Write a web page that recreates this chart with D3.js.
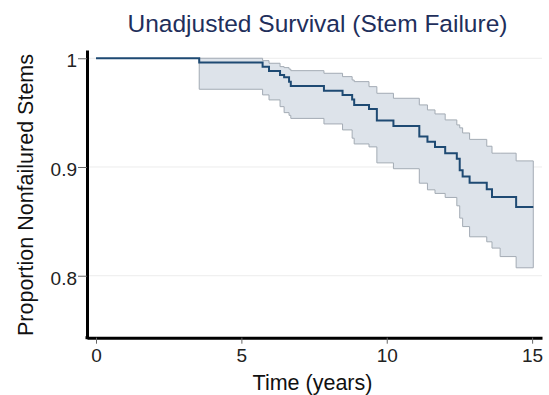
<!DOCTYPE html>
<html>
<head>
<meta charset="utf-8">
<script src="https://cdn.jsdelivr.net/npm/d3@7"></script>
<style>
  body { margin: 0; background: #fff; }
  svg { display: block; font-family: "Liberation Sans", Arial, sans-serif; }
</style>
</head>
<body>
<div id="chart"></div>
<script>
// step times (years)
const times = [0, 3.55, 5.73, 5.95, 6.33, 6.47, 6.64, 6.70, 7.84, 8.48, 8.81, 8.88, 9.39, 9.66,
  10.23, 11.12, 11.40, 11.66, 12.01, 12.41, 12.51, 12.61, 12.85, 13.44, 13.62, 13.90, 14.45];
const endTime = 15.04;
const survival = [1, 0.996, 0.9923, 0.9883, 0.9847, 0.9825, 0.9785, 0.9745, 0.9702, 0.9663, 0.9621,
  0.9571, 0.9534, 0.9428, 0.9378, 0.9281, 0.9233, 0.9185, 0.9127, 0.9076, 0.8971, 0.8912, 0.8854,
  0.8796, 0.8725, 0.8725, 0.8633];
const upper = [1, 1, 0.9978, 0.9954, 0.9923, 0.9914, 0.990, 0.9886, 0.9862, 0.9831, 0.980, 0.9785,
  0.9739, 0.9678, 0.9632, 0.9571, 0.9525, 0.9488, 0.9433, 0.9387, 0.936, 0.9313, 0.9254, 0.9191,
  0.9127, 0.9127, 0.9056];
const lower = [1, 0.9715, 0.9663, 0.9617, 0.9555, 0.95, 0.9475, 0.9447, 0.9396, 0.9341, 0.9265,
  0.9212, 0.9185, 0.9038, 0.8984, 0.8851, 0.879, 0.8757, 0.872, 0.8643, 0.853, 0.8452, 0.8358,
  0.8312, 0.8254, 0.8176, 0.8073];
const xTicks = [0, 5, 10, 15];
const yTicks = [0.8, 0.9, 1];

const width = 549, height = 395;

const svg = d3.select("#chart").append("svg")
    .attr("width", width)
    .attr("height", height);

// scales (domains run a bit past the ticks like the original)
const x = d3.scaleLinear().domain([-0.31, 15.34]).range([87, 542]);
const y = d3.scaleLinear().domain([0.743, 1.0076]).range([337.7, 50]);

// format the data
const data = times.map((t, i) => ({ t: t, s: survival[i], hi: upper[i], lo: lower[i] }));
const last = data[data.length - 1];
data.push({ t: endTime, s: last.s, hi: last.hi, lo: last.lo });

// grid lines
svg.append("g")
  .selectAll("line")
  .data(yTicks)
  .join("line")
    .attr("x1", 88).attr("x2", 542)
    .attr("y1", d => y(d)).attr("y2", d => y(d))
    .attr("stroke", "#ececec")
    .attr("stroke-width", 1);

// confidence band (starts at the first failure)
const band = d3.area()
    .curve(d3.curveStepAfter)
    .x(d => x(d.t))
    .y0(d => y(d.lo))
    .y1(d => y(d.hi));

svg.append("path")
    .datum(data.slice(1))
    .attr("d", band)
    .attr("fill", "#dde3ea")
    .attr("stroke", "#a3abb4")
    .attr("stroke-width", 1);

// survival line
const valueline = d3.line()
    .curve(d3.curveStepAfter)
    .x(d => x(d.t))
    .y(d => y(d.s));

svg.append("path")
    .datum(data)
    .attr("d", valueline)
    .attr("fill", "none")
    .attr("stroke", "#1e4a73")
    .attr("stroke-width", 2);

// x axis
const xAxis = svg.append("g")
    .attr("transform", "translate(0,337.7)")
    .call(d3.axisBottom(x).tickValues(xTicks).tickSize(6).tickSizeOuter(0).tickPadding(5));
xAxis.select(".domain").attr("stroke", "#000").attr("stroke-width", 3);
xAxis.selectAll(".tick line").attr("stroke", "#666").attr("stroke-width", 1);
xAxis.selectAll(".tick text")
    .attr("font-size", 19)
    .attr("fill", "#222")
    .attr("font-family", "Liberation Sans, Arial, sans-serif");

// y axis
const yAxis = svg.append("g")
    .attr("transform", "translate(87,0)")
    .call(d3.axisLeft(y).tickValues(yTicks).tickFormat(d3.format("")).tickSize(9).tickSizeOuter(0).tickPadding(1));
yAxis.select(".domain").attr("stroke", "#000").attr("stroke-width", 3);
yAxis.selectAll(".tick line").attr("stroke", "#666").attr("stroke-width", 1);
yAxis.selectAll(".tick text")
    .attr("font-size", 19)
    .attr("fill", "#222")
    .attr("dy", "0.45em")
    .attr("font-family", "Liberation Sans, Arial, sans-serif");

// corner so the two thick axis lines meet
svg.append("rect")
    .attr("x", 85.5).attr("y", 336.2)
    .attr("width", 3).attr("height", 3)
    .attr("fill", "#000");

// titles
svg.append("text")
    .attr("x", 317.5).attr("y", 31.5)
    .attr("text-anchor", "middle")
    .attr("font-size", 24.5)
    .attr("fill", "#1f2f5c")
    .text("Unadjusted Survival (Stem Failure)");

svg.append("text")
    .attr("x", 312.5).attr("y", 390)
    .attr("text-anchor", "middle")
    .attr("font-size", 21.5)
    .attr("fill", "#111")
    .text("Time (years)");

svg.append("text")
    .attr("transform", "translate(33,195) rotate(-90)")
    .attr("text-anchor", "middle")
    .attr("font-size", 21.5)
    .attr("fill", "#111")
    .text("Proportion Nonfailured Stems");
</script>
</body>
</html>
